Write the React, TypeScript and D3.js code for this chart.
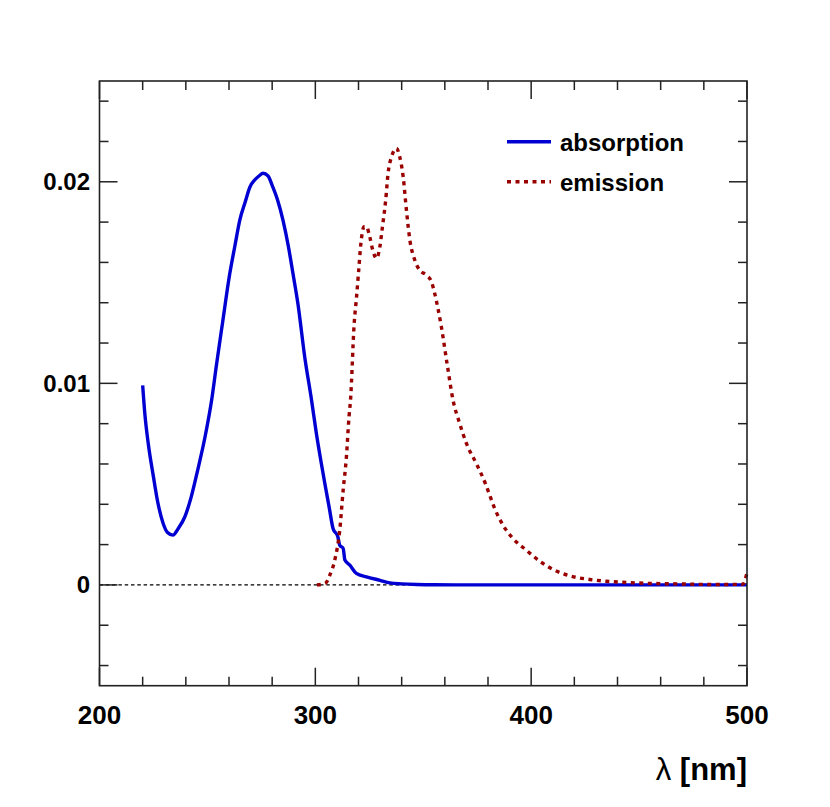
import React from "react";
import * as d3 from "d3";

// absorption spectrum (wavelength in nm, arbitrary units)
const absWl = [
  220, 221, 222.6, 225, 227, 229.5, 231.5, 234, 236.5, 239.5, 242.5, 245.5,
  249, 252, 254.3, 257, 260.4, 262.7, 265, 267.5, 269.7, 272, 274, 275.8, 278,
  280.3, 282.5, 285, 287.5, 289.6, 292, 295.1, 298.2, 300.5, 302.5, 304.4,
  306.5, 308.2, 310.4, 311.3, 312.9, 313.7, 316, 319, 323.7, 330, 334.5, 340,
  347, 355, 370, 400, 450, 500,
];
const absVal = [
  0.0099, 0.0085, 0.007, 0.00536, 0.0041, 0.00305, 0.0026, 0.00247, 0.0028,
  0.00337, 0.00437, 0.0057, 0.0074, 0.0092, 0.011, 0.013, 0.01547, 0.0168,
  0.0181, 0.019, 0.01974, 0.0201, 0.0203, 0.02042, 0.0203, 0.01974, 0.0191,
  0.0181, 0.0168, 0.01547, 0.0139, 0.0113, 0.0092, 0.0075, 0.0062, 0.00503,
  0.0038, 0.0028, 0.0024, 0.00197, 0.00181, 0.00123, 0.00098, 0.00057, 0.0004,
  0.00023, 0.0001, 0.00005, 0.00002, 0.00001, 0, 0, 0, 0,
];

// emission spectrum
const emWl = [
  300.7, 303, 304.9, 306.7, 309, 311.3, 312.9, 314.4, 315.6, 316.3, 318, 319.1,
  320.1, 321.1, 322.6, 323.7, 325.2, 326.8, 328.3, 329.9, 331.1, 332.6, 333.7,
  335.3, 337.6, 339.1, 340.7, 342.2, 343.8, 346.1, 348.4, 351.5, 353.8, 355.3,
  356.8, 358.4, 361, 363.8, 366.9, 370, 374.6, 378.9, 380.5, 383.1, 387, 391.6,
  397.8, 403.9, 410.9, 418.6, 427.1, 434.8, 442.5, 453.3, 468.7, 484.2, 498,
  500,
];
const emVal = [
  0, 0.00003, 0.0001, 0.00048, 0.00123, 0.00271, 0.00471, 0.00635, 0.00834,
  0.00917, 0.01297, 0.01429, 0.01562, 0.01694, 0.01777, 0.01777, 0.01727,
  0.01653, 0.0162, 0.01678, 0.01777, 0.01909, 0.02042, 0.02124, 0.02166,
  0.02124, 0.02025, 0.0186, 0.01711, 0.01611, 0.01561, 0.01537, 0.01504,
  0.01446, 0.01372, 0.0128, 0.011, 0.00917, 0.008, 0.00702, 0.00602, 0.005,
  0.00454, 0.00379, 0.00296, 0.0023, 0.00172, 0.00118, 0.00073, 0.00043,
  0.00027, 0.00018, 0.00013, 0.00008, 0.00005, 0.00002, 0.00003, 0.0006,
];

const xMajor = [200, 300, 400, 500];
const yMajor = [0, 0.01, 0.02];
const yLabels = ["0", "0.01", "0.02"];
const legendNames = ["absorption", "emission"];

const W = 830;
const H = 807;
const L = 99.5, R = 747, T = 81, B = 685.7;
const FONT = "'Liberation Sans', Arial, Helvetica, sans-serif";
const BLUE = "#0000d2";
const RED = "#990000";

const App = () => {
  const x = d3.scaleLinear().domain([200, 500]).range([L, R]);
  const y = d3.scaleLinear().domain([-0.005, 0.025]).range([B, T]);

  const line = d3
    .line<[number, number]>()
    .x((d) => x(d[0]))
    .y((d) => y(d[1]))
    .curve(d3.curveMonotoneX);

  const absPts = absWl.map((w, i) => [w, absVal[i]] as [number, number]);
  const emPts = emWl.map((w, i) => [w, emVal[i]] as [number, number]);

  const xMinor = d3.range(200, 501, 20).filter((v) => !xMajor.includes(v));
  const yMinor = d3
    .range(-4, 25, 2)
    .map((v) => v / 1000)
    .filter((v) => !yMajor.some((m) => Math.abs(m - v) < 1e-9));

  const tick = { stroke: "#222", strokeWidth: 1.5 };

  return (
    <svg
      width={W}
      height={H}
      style={{ position: "absolute", left: 0, top: 0, background: "#fff" }}
    >
      {/* zero line */}
      <line
        x1={L}
        x2={R}
        y1={y(0)}
        y2={y(0)}
        stroke="#000"
        strokeWidth={1.1}
        strokeDasharray="3.5 2.8"
      />

      {/* x ticks, bottom and top */}
      {xMajor.map((v) => (
        <g key={"xM" + v}>
          <line x1={x(v)} x2={x(v)} y1={B} y2={B - 18} {...tick} />
          <line x1={x(v)} x2={x(v)} y1={T} y2={T + 18} {...tick} />
        </g>
      ))}
      {xMinor.map((v) => (
        <g key={"xm" + v}>
          <line x1={x(v)} x2={x(v)} y1={B} y2={B - 9} {...tick} />
          <line x1={x(v)} x2={x(v)} y1={T} y2={T + 9} {...tick} />
        </g>
      ))}
      {/* y ticks, left and right */}
      {yMajor.map((v) => (
        <g key={"yM" + v}>
          <line x1={L} x2={L + 18} y1={y(v)} y2={y(v)} {...tick} />
          <line x1={R} x2={R - 18} y1={y(v)} y2={y(v)} {...tick} />
        </g>
      ))}
      {yMinor.map((v) => (
        <g key={"ym" + v}>
          <line x1={L} x2={L + 9} y1={y(v)} y2={y(v)} {...tick} />
          <line x1={R} x2={R - 9} y1={y(v)} y2={y(v)} {...tick} />
        </g>
      ))}

      {/* curves */}
      <path
        d={line(absPts) || ""}
        fill="none"
        stroke={BLUE}
        strokeWidth={3.4}
        strokeLinejoin="round"
      />
      <path
        d={line(emPts) || ""}
        fill="none"
        stroke={RED}
        strokeWidth={3.4}
        strokeDasharray="4 4.5"
      />

      {/* frame */}
      <rect
        x={L}
        y={T}
        width={R - L}
        height={B - T}
        fill="none"
        stroke="#222"
        strokeWidth={1.6}
      />

      {/* tick labels */}
      {xMajor.map((v) => (
        <text
          key={"xl" + v}
          x={x(v)}
          y={724}
          textAnchor="middle"
          fontFamily={FONT}
          fontWeight="bold"
          fontSize={26}
          fill="#000"
        >
          {v}
        </text>
      ))}
      {yMajor.map((v, i) => (
        <text
          key={"yl" + v}
          x={90}
          y={y(v) + 8.5}
          textAnchor="end"
          fontFamily={FONT}
          fontWeight="bold"
          fontSize={24}
          fill="#000"
        >
          {yLabels[i]}
        </text>
      ))}

      {/* axis title */}
      <text
        x={R}
        y={780}
        textAnchor="end"
        fontFamily={FONT}
        fontWeight="bold"
        fontSize={31}
        fill="#000"
      >
        <tspan fontWeight="normal">λ</tspan> [nm]
      </text>

      {/* legend */}
      <line x1={507} x2={551} y1={141.7} y2={141.7} stroke={BLUE} strokeWidth={3.4} />
      <text x={560} y={150.5} fontFamily={FONT} fontWeight="bold" fontSize={24} fill="#000">
        {legendNames[0]}
      </text>
      <line
        x1={507}
        x2={551}
        y1={181.7}
        y2={181.7}
        stroke={RED}
        strokeWidth={3.4}
        strokeDasharray="4 4.5"
      />
      <text x={560} y={190.5} fontFamily={FONT} fontWeight="bold" fontSize={24} fill="#000">
        {legendNames[1]}
      </text>
    </svg>
  );
};

export default App;
